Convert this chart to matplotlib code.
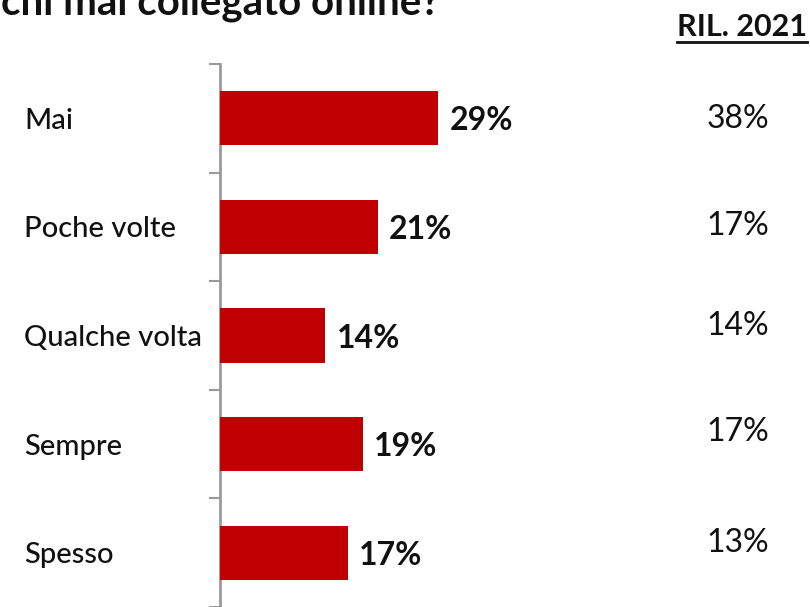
import matplotlib; matplotlib.use("Agg")
import matplotlib.pyplot as plt
from matplotlib.lines import Line2D

plt.rcParams['font.family'] = ['Lato', 'DejaVu Sans']

categories = ["Mai", "Poche volte", "Qualche volta", "Sempre", "Spesso"]
values = [29, 21, 14, 19, 17]
values_2021 = [38, 17, 14, 17, 13]
title = "chi mai collegato online?"
col_header = "RIL. 2021"

RED = "#c00000"
AXIS = "#9a9a9a"
W, H = 810, 607

fig = plt.figure(figsize=(W/100, H/100), dpi=100)
fig.patch.set_facecolor("white")

# axes: spine at x=220px, top boundary at y=64px, 110px per category
ax = fig.add_axes([220/W, 0, 301/W, 1 - 64/H])
n = len(categories)
ypos = list(range(n))
ax.barh(ypos, values, height=0.5, color=RED, zorder=3)
ax.set_xlim(0, 40)
ax.set_ylim(-0.5 + (H - 64)/110, -0.5)

for s in ["top", "right", "bottom"]:
    ax.spines[s].set_visible(False)
ax.spines["left"].set_color(AXIS)
ax.spines["left"].set_linewidth(2)
ax.set_xticks([])
ax.set_yticks(ypos)
ax.set_yticklabels([])
ax.tick_params(axis="y", which="major", length=0)
ax.set_yticks([i - 0.5 for i in range(n + 1)], minor=True)
ax.tick_params(axis="y", which="minor", length=8, width=1.5, color=AXIS)

# category labels, left aligned at the figure edge
for y, c in zip(ypos, categories):
    ax.annotate(c, xy=(24/W, y), xycoords=("figure fraction", "data"),
                ha="left", va="center_baseline", fontsize=21, fontweight="medium",
                color="#111111")

# value labels
for y, v in zip(ypos, values):
    ax.annotate(f"{v}%", xy=(v, y), xytext=(8, 0), textcoords="offset points",
                ha="left", va="center_baseline", fontsize=23, fontweight="bold", color="#111111")

# 2021 column
col_shift = [1.8, 2.5, 9, 11.2, 9]
for y, v, d in zip(ypos, values_2021, col_shift):
    ax.annotate(f"{v}%", xy=(738/W, y), xycoords=("figure fraction", "data"),
                xytext=(0, d), textcoords="offset points",
                ha="center", va="center_baseline", fontsize=23, color="#111111")

# header with underline
hdr = fig.text(807/W, 1 - 36/H, col_header, ha="right", va="baseline",
               fontsize=22, fontweight="bold", color="#111111")
fig.canvas.draw()
bb = hdr.get_window_extent(fig.canvas.get_renderer())
fig.add_artist(Line2D([bb.x0/W, bb.x1/W], [1 - 42/H, 1 - 42/H],
                      transform=fig.transFigure, color="#111111", lw=2))

# title, cut off at the top
fig.text(1/W, 1 - 15/H, title, ha="left", va="baseline",
         fontsize=29, fontweight="bold", color="#111111")

fig.savefig("out.png", dpi=100, facecolor="white")
